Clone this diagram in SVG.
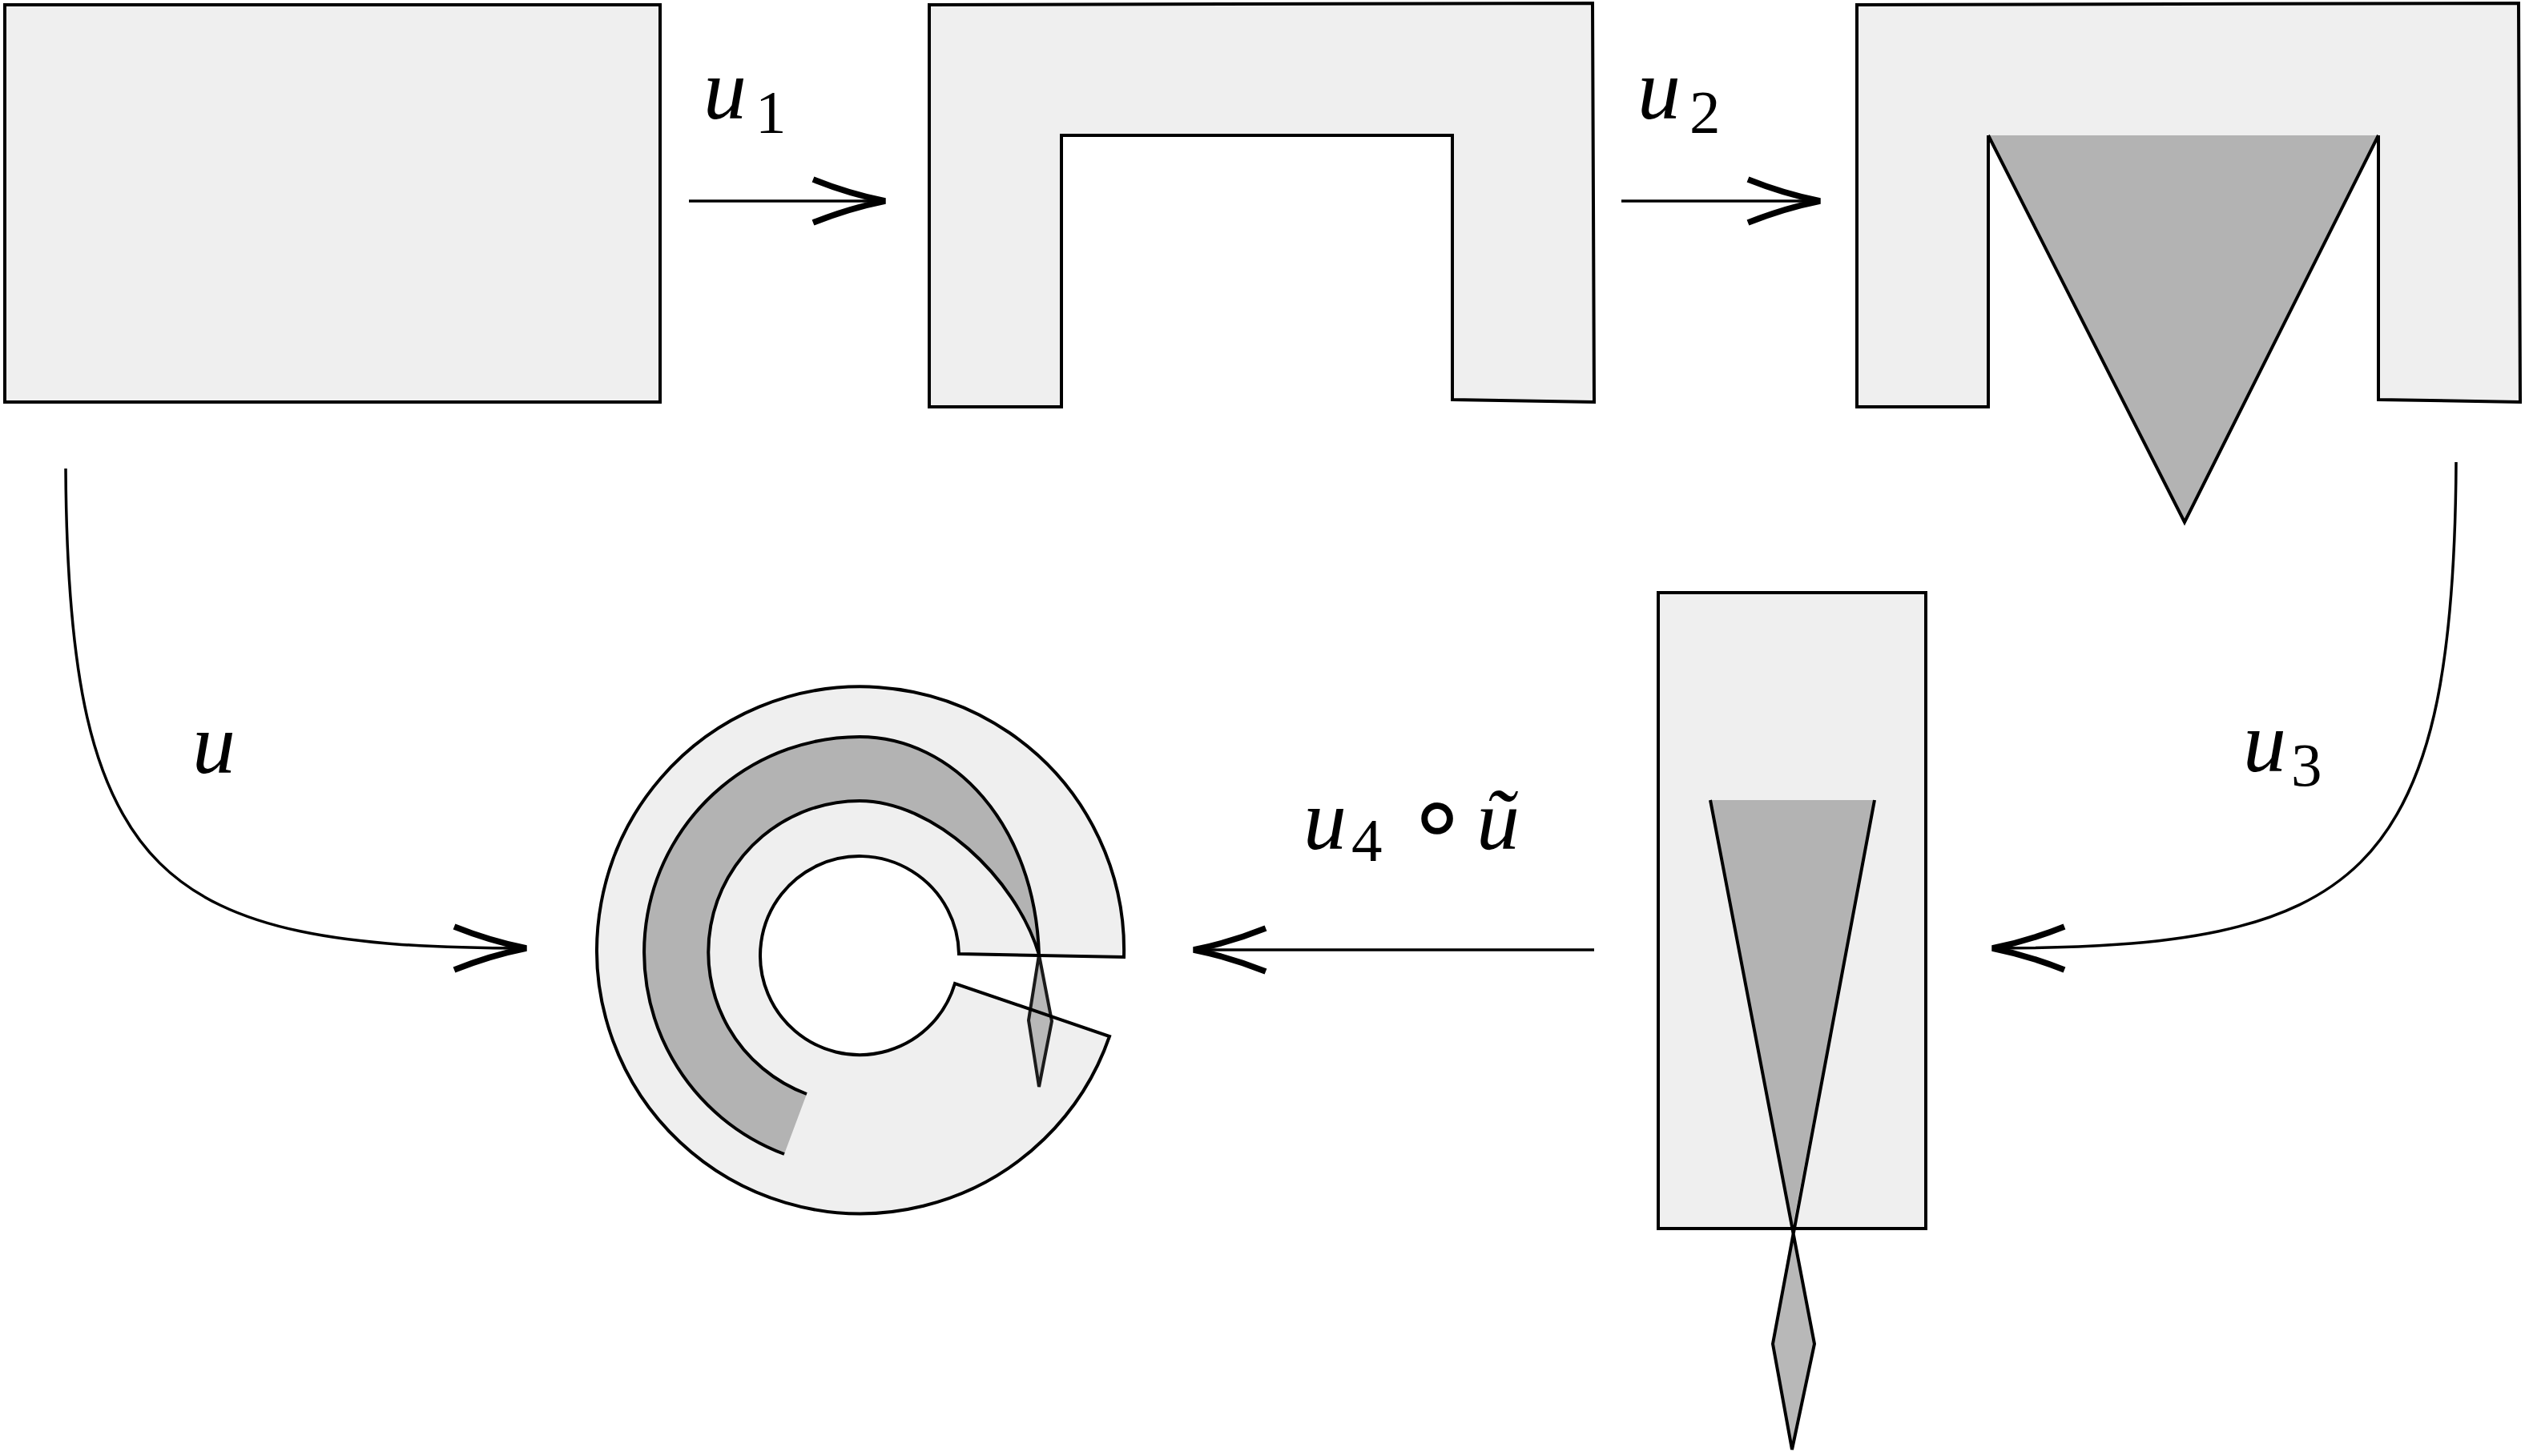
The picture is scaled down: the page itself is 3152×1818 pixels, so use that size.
<svg xmlns="http://www.w3.org/2000/svg" width="3152" height="1818" viewBox="0 0 3152 1818">
<style>
.light{fill:#efefef;stroke:#000;stroke-width:4;stroke-linejoin:miter}
.fillonly{stroke:none}
.gray{fill:#b3b3b3;stroke:none}
.edge{fill:none;stroke:#000;stroke-width:4}
.dia{fill:#b8b8b8;stroke:#1a1a1a;stroke-width:4}
.conn{fill:none;stroke:#000;stroke-width:3.5}
.lab{font-family:"Liberation Serif","DejaVu Serif",serif;font-style:italic;font-size:108px;fill:#000}
.sub{font-style:normal;font-size:77px}
</style>
<defs>
<marker id="arr" markerUnits="userSpaceOnUse" viewBox="-100 -40 110 80" refX="0" refY="0" markerWidth="110" markerHeight="80" orient="auto" overflow="visible">
<path d="M-90,-27 Q-45,-9 0,0 Q-45,9 -90,27" fill="none" stroke="#000" stroke-width="7.5" stroke-linejoin="bevel"/>
</marker>
<path id="annulus" d="M 1403,1195 A 329 329 0 1 0 1385,1294 L 1192,1228 A 124 124 0 1 1 1197,1191 Z"/>
</defs>
<rect width="3152" height="1818" fill="#fff"/>

<g id="node-rect">
<rect class="light" x="6" y="6" width="818" height="496"/>
</g>

<g id="node-u-shape">
<polygon class="light" points="1160,6 1988,4 1990,502 1813,499 1813,169 1325,169 1325,508 1160,508"/>
</g>

<g id="node-u-triangle">
<polygon class="light fillonly" points="2318,6 3144,4 3146,502 2969,499 2969,169 2482,169 2482,508 2318,508"/>
<polygon class="gray" points="2482,169 2969,169 2727,652"/>
<polyline class="edge" points="2482,169 2482,508 2318,508 2318,6 3144,4 3146,502 2969,499 2969,169"/>
<polyline class="edge" points="2482,169 2727,652 2969,169"/>
</g>

<g id="node-strip">
<rect class="light" x="2070" y="740" width="334" height="794"/>
<polygon class="gray" points="2135,999 2340,999 2237,1536"/>
<polygon class="dia" style="stroke:none" points="2237,1536 2265,1678 2237,1810 2213,1678"/>
<polyline class="edge" points="2135,999 2265,1678 2237,1810 2213,1678 2340,999"/>
</g>

<g id="node-annulus">
<use href="#annulus" class="light" style="stroke:none"/>
<path class="gray" d="M 1297,1192 C 1292,1030 1190,920 1073,920 A 269 269 0 0 0 979,1441 L 1007,1366 A 189 189 0 0 1 1073,1000 C 1165,1000 1268,1095 1297,1192 Z"/>
<path class="edge" d="M 979,1441 A 269 269 0 0 1 1073,920 C 1190,920 1292,1030 1297,1192 M 1007,1366 A 189 189 0 0 1 1073,1000 C 1165,1000 1268,1095 1297,1192"/>
<polygon class="dia" points="1297,1192 1313,1275 1297,1357 1284,1274"/>
<use href="#annulus" class="edge"/>
</g>

<g id="connectors">
<path class="conn" d="M 860,251 L 1105,251" marker-end="url(#arr)"/>
<path class="conn" d="M 2024,251 L 2272,251" marker-end="url(#arr)"/>
<path class="conn" d="M 82,585 C 85,1100 200,1184 657,1184" marker-end="url(#arr)"/>
<path class="conn" d="M 3066,577 C 3063,1100 2944,1184 2487,1184" marker-end="url(#arr)"/>
<path class="conn" d="M 1990,1186 L 1490,1186" marker-end="url(#arr)"/>
</g>

<g id="labels">
<text class="lab" x="878" y="148">u<tspan class="sub" x="943" y="166">1</tspan></text>
<text class="lab" x="2044" y="148">u<tspan class="sub" x="2109" y="166">2</tspan></text>
<text class="lab" x="240" y="965">u</text>
<text class="lab" x="2800" y="963">u<tspan class="sub" x="2860" y="981">3</tspan></text>
<text class="lab" x="1627" y="1060">u<tspan class="sub" x="1687" y="1075">4</tspan><tspan x="1754" y="1062" style="font-style:normal;font-size:128px;font-family:'DejaVu Sans',sans-serif">∘</tspan><tspan x="1843" y="1060">ũ</tspan></text>
</g>
</svg>
